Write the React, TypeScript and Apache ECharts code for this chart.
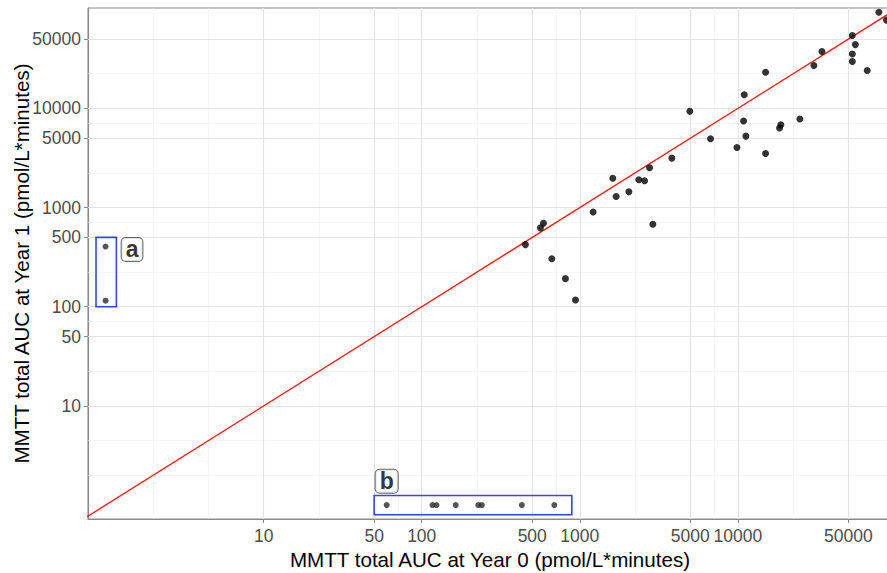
import React, { useEffect, useRef } from "react";
import * as echarts from "echarts";

// Axis breaks (as in the reference)
const majorBreaks = [10, 50, 100, 500, 1000, 5000, 10000, 50000];
const minorBreaks = [2, 4.47, 22.4, 70.7, 224, 707, 2236, 7071, 22361];

// Main scatter: MMTT AUC Year 0 vs Year 1
const mainX = [453, 564, 589, 665, 811, 939, 1214, 1617, 1698, 2044, 2361, 2569, 2762, 2899, 3823, 4966, 6715, 9865, 10970, 10870, 11240, 14970, 14970, 18350, 18710, 24660, 30250, 34030, 52970, 55350, 52970, 52970, 65800, 78000, 87100];
const mainY = [423, 624, 694, 305, 192, 117, 903, 1977, 1291, 1440, 1905, 1862, 2518, 678, 3148, 9333, 4943, 4034, 13740, 7450, 5250, 23100, 3510, 6330, 6840, 7800, 27000, 37400, 54200, 43950, 35400, 29650, 24040, 93300, 77600];

// Group a: zero at Year 0 (plotted at 1)
const groupAX = [1, 1];
const groupAY = [404, 115];
// Group b: zero at Year 1 (plotted at 1)
const groupBX = [60, 117, 124, 164, 228, 240, 430, 690];
const groupBY = [1, 1, 1, 1, 1, 1, 1, 1];

const boxAX = [0.87, 1.17];
const boxAY = [100, 500];
const boxBX = [50, 890];
const boxBY = [0.8, 1.25];
const labelTexts = ["a", "b"];
const labelX = [1.47, 60];
const labelY = [378, 1.74];

const xRange = [0.774, 94400];
const yRange = [0.724, 102800];
const identityLine = [0.3, 300000];

const FONT = "'Liberation Sans', Arial, Helvetica, sans-serif";

export default function App() {
  const ref = useRef<HTMLDivElement>(null);
  useEffect(() => {
    if (!ref.current) return;
    const chart = echarts.init(ref.current, undefined, { renderer: "svg" });

    const gridLines = [
      ...minorBreaks.map((v) => ({ xAxis: v, lineStyle: { color: "#f0f0f0", width: 0.6, type: "solid" } })),
      ...minorBreaks.map((v) => ({ yAxis: v, lineStyle: { color: "#f0f0f0", width: 0.6, type: "solid" } })),
      ...majorBreaks.map((v) => ({ xAxis: v, lineStyle: { color: "#e4e4e4", width: 1.2, type: "solid" } })),
      ...majorBreaks.map((v) => ({ yAxis: v, lineStyle: { color: "#e4e4e4", width: 1.2, type: "solid" } })),
    ];

    const axisCommon = {
      type: "log" as const,
      logBase: 10,
      nameLocation: "middle" as const,
      nameMoveOverlap: false,
      nameTextStyle: { fontFamily: FONT, fontSize: 20.6, color: "#000" },
      axisLine: { show: true, lineStyle: { color: "#8a8a8a", width: 1.2 } },
      axisTick: { show: true, customValues: majorBreaks, length: 4, lineStyle: { color: "#8a8a8a" } },
      axisLabel: {
        show: true,
        customValues: majorBreaks,
        formatter: (v: number) => String(Math.round(v)),
        fontFamily: FONT,
        fontSize: 17.5,
        color: "#4d4d4d",
      },
      splitLine: { show: false },
      minorSplitLine: { show: false },
    };

    chart.setOption({
      animation: false,
      backgroundColor: "#fff",
      grid: {
        left: 88,
        top: 8,
        right: -5,
        bottom: 54,
        show: true,
        borderColor: "#8a8a8a",
        borderWidth: 1,
        backgroundColor: "#fff",
        containLabel: false,
        outerBoundsMode: "none",
      },
      xAxis: {
        ...axisCommon,
        min: xRange[0],
        max: xRange[1],
        name: "MMTT total AUC at Year 0 (pmol/L*minutes)",
        nameGap: 30,
        axisLabel: { ...axisCommon.axisLabel, margin: 8 },
      },
      yAxis: {
        ...axisCommon,
        min: yRange[0],
        max: yRange[1],
        name: "MMTT total AUC at Year 1 (pmol/L*minutes)",
        nameGap: 56,
        axisLabel: { ...axisCommon.axisLabel, margin: 7 },
      },
      series: [
        {
          type: "line",
          name: "grid",
          data: [],
          silent: true,
          z: 1,
          markLine: {
            silent: true,
            z: 1,
            symbol: "none",
            label: { show: false },
            animation: false,
            data: gridLines,
          },
        },
        {
          type: "line",
          name: "identity",
          data: identityLine.map((v) => [v, v]),
          showSymbol: false,
          symbol: "none",
          clip: true,
          silent: true,
          z: 3,
          lineStyle: { color: "#ff1a1a", width: 1.4 },
        },
        {
          type: "scatter",
          name: "boxes",
          data: [],
          silent: true,
          z: 4,
          markArea: {
            silent: true,
            z: 4,
            label: { show: false },
            itemStyle: { color: "rgba(0,0,0,0)", borderColor: "#3344ff", borderWidth: 1.6 },
            data: [
              [{ coord: [boxAX[0], boxAY[0]] }, { coord: [boxAX[1], boxAY[1]] }],
              [{ coord: [boxBX[0], boxBY[0]] }, { coord: [boxBX[1], boxBY[1]] }],
            ],
          },
        },
        {
          type: "scatter",
          name: "main",
          data: mainX.map((x, i) => [x, mainY[i]]),
          symbolSize: 7,
          z: 5,
          itemStyle: { color: "#000" },
        },
        {
          type: "scatter",
          name: "a",
          data: groupAX.map((x, i) => [x, groupAY[i]]),
          symbolSize: 6,
          z: 5,
          itemStyle: { color: "#2a2a2a" },
        },
        {
          type: "scatter",
          name: "b",
          data: groupBX.map((x, i) => [x, groupBY[i]]),
          symbolSize: 6,
          z: 5,
          itemStyle: { color: "#2a2a2a" },
        },
        {
          type: "scatter",
          name: "labels",
          data: labelX.map((x, i) => ({ value: [x, labelY[i]], name: labelTexts[i] })),
          symbolSize: 0,
          silent: true,
          z: 6,
          label: {
            show: true,
            position: "inside",
            formatter: (p: any) => p.name,
            fontFamily: FONT,
            fontSize: 23,
            fontWeight: "bold",
            color: "#000",
            backgroundColor: "#fff",
            borderColor: "#444",
            borderWidth: 1,
            borderRadius: 4,
            padding: [1, 4, 0, 4],
            lineHeight: 22,
          },
        },
      ],
    });
    return () => chart.dispose();
  }, []);
  return <div ref={ref} style={{ width: 887, height: 573, position: "absolute", left: 0, top: 0 }} />;
}
